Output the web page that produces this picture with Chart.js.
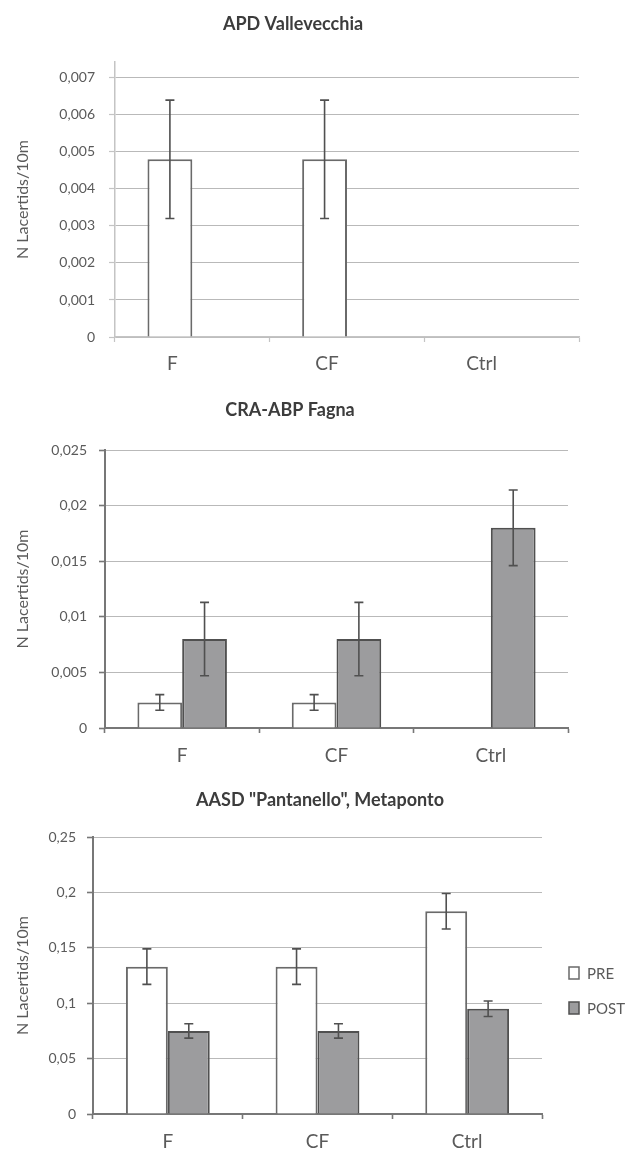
<!DOCTYPE html>
<html><head><meta charset="utf-8">
<script src="https://cdn.jsdelivr.net/npm/chart.js@4.4.1/dist/chart.umd.min.js"></script>
<style>
html,body{margin:0;padding:0;background:#fff;width:635px;height:1155px;overflow:hidden}
canvas{position:absolute;left:0}
</style></head><body>
<canvas id="c1" width="635" height="385" style="top:0"></canvas>
<canvas id="c2" width="635" height="390" style="top:385px"></canvas>
<canvas id="c3" width="635" height="380" style="top:775px"></canvas>
<script>
// ---- data ----
const categories = ['F', 'CF', 'Ctrl'];
const seriesNames = ['PRE', 'POST'];
const panelTitles = ['APD Vallevecchia', 'CRA-ABP Fagna', 'AASD "Pantanello", Metaponto'];
const yAxisTitle = 'N Lacertids/10m';

const vallePre = [0.0048, 0.0048, null];
const vallePreErr = [0.0016, 0.0016, null];
const vallePost = [null, null, null];
const vallePostErr = [null, null, null];

const fagnaPre = [0.0023, 0.0023, null];
const fagnaPreErr = [0.0007, 0.0007, null];
const fagnaPost = [0.008, 0.008, 0.018];
const fagnaPostErr = [0.0033, 0.0033, 0.0034];

const pantPre = [0.133, 0.133, 0.183];
const pantPreErr = [0.016, 0.016, 0.016];
const pantPost = [0.075, 0.075, 0.095];
const pantPostErr = [0.0065, 0.0065, 0.007];

const yAxisTop = [0.00743, 0.025, 0.25];
const yStep = [0.001, 0.005, 0.05];

// ---- styles ----
const FONT = 'Lato, "Open Sans", sans-serif';
const preFill = '#ffffff', preBorder = '#6a6a6a';
const postFill = '#9c9c9e', postBorder = '#505050';
const textGray = '#5a5a5a';

function fmt(v) {
  return String(Number(v.toFixed(4))).replace('.', ',');
}

const errorBarPlugin = {
  id: 'errorBars',
  afterDatasetsDraw(chart) {
    const ctx = chart.ctx;
    const ys = chart.scales.y;
    chart.data.datasets.forEach((ds, di) => {
      const meta = chart.getDatasetMeta(di);
      if (!ds.errors) return;
      meta.data.forEach((bar, i) => {
        const v = ds.data[i], e = ds.errors[i];
        if (v == null || e == null) return;
        const x = bar.x;
        const yt = ys.getPixelForValue(v + e);
        const yb = ys.getPixelForValue(v - e);
        ctx.save();
        ctx.strokeStyle = '#505050';
        ctx.lineWidth = 1.6;
        ctx.beginPath();
        ctx.moveTo(x, yt); ctx.lineTo(x, yb);
        ctx.moveTo(x - 4.5, yt); ctx.lineTo(x + 4.5, yt);
        ctx.moveTo(x - 4.5, yb); ctx.lineTo(x + 4.5, yb);
        ctx.stroke();
        ctx.restore();
      });
    });
  }
};

const panelTitlePlugin = {
  id: 'panelTitle',
  afterDraw(chart, args, opts) {
    if (!opts || !opts.text) return;
    const ctx = chart.ctx;
    ctx.save();
    ctx.font = 'bold 18px ' + FONT;
    ctx.fillStyle = '#3c3c3c';
    ctx.textAlign = 'center';
    ctx.textBaseline = 'middle';
    ctx.fillText(opts.text, opts.x, opts.y);
    ctx.restore();
  }
};

const sideLegendPlugin = {
  id: 'sideLegend',
  afterDraw(chart, args, opts) {
    if (!opts || !opts.show) return;
    const ctx = chart.ctx;
    ctx.save();
    ctx.font = '15px ' + FONT;
    ctx.textBaseline = 'middle';
    chart.data.datasets.forEach((ds, i) => {
      const y = opts.y[i];
      ctx.fillStyle = ds.backgroundColor;
      ctx.strokeStyle = ds.borderColor;
      ctx.lineWidth = 1.5;
      ctx.fillRect(opts.x, y - 6, 10, 12);
      ctx.strokeRect(opts.x, y - 6, 10, 12);
      ctx.fillStyle = textGray;
      ctx.fillText(ds.label, opts.x + 18, y + 1);
    });
    ctx.restore();
  }
};

function makeChart(id, idx, pre, preErr, post, postErr, geo) {
  const light = idx === 0;
  const axisColor = light ? '#c4c4c4' : '#777777';
  const step = yStep[idx];
  return new Chart(document.getElementById(id), {
    type: 'bar',
    data: {
      labels: categories,
      datasets: [
        { label: seriesNames[0], data: pre, errors: preErr, backgroundColor: preFill, borderColor: preBorder, borderWidth: 2, borderSkipped: 'bottom' },
        { label: seriesNames[1], data: post, errors: postErr, backgroundColor: postFill, borderColor: postBorder, borderWidth: 2, borderSkipped: 'bottom' }
      ]
    },
    options: {
      responsive: false,
      animation: false,
      events: [],
      layout: { padding: { left: 10, right: geo.padRight, top: geo.padTop, bottom: 0 } },
      datasets: { bar: { categoryPercentage: geo.catPct, barPercentage: 1 } },
      plugins: {
        legend: { display: false },
        tooltip: { enabled: false },
        title: { display: false },
        panelTitle: { text: panelTitles[idx], x: geo.titleX, y: geo.titleY },
        sideLegend: geo.legend || { show: false }
      },
      scales: {
        x: {
          afterFit(s) { s.height = geo.xHeight; },
          border: { color: axisColor, width: light ? 1.5 : 2 },
          grid: { display: true, drawOnChartArea: false, tickLength: 5, tickColor: axisColor, tickWidth: light ? 1.2 : 1.6, offset: true },
          ticks: { color: textGray, font: { family: FONT, size: 19 }, padding: geo.xPad, labelOffset: geo.labelOffset || 0 }
        },
        y: {
          min: 0, max: yAxisTop[idx],
          afterFit(s) { s.width = geo.yWidth; },
          afterBuildTicks(s) {
            s.ticks = s.ticks.filter(t => Math.abs(t.value / step - Math.round(t.value / step)) < 1e-6);
          },
          border: { color: axisColor, width: light ? 1.5 : 2 },
          grid: { color: '#b9b9b9', lineWidth: 1, borderDash: [2, 2], tickLength: 6, tickColor: axisColor, tickBorderDash: [], tickWidth: light ? 1.2 : 1.6 },
          ticks: { stepSize: step, color: textGray, font: { family: FONT, size: 14 }, padding: geo.yPad, callback: (v) => fmt(v) },
          title: { display: true, text: yAxisTitle, color: textGray, font: { family: FONT, size: 16 }, padding: { top: 3, bottom: 0 } }
        }
      }
    },
    plugins: [errorBarPlugin, panelTitlePlugin, sideLegendPlugin]
  });
}

makeChart('c1', 0, vallePre, vallePreErr, vallePost, vallePostErr,
  { padRight: 56, padTop: 62, xHeight: 48, yWidth: 105, catPct: 0.58, titleX: 293, titleY: 24, xPad: 10, yPad: 14, labelOffset: -20 });
makeChart('c2', 1, fagnaPre, fagnaPreErr, fagnaPost, fagnaPostErr,
  { padRight: 67, padTop: 65, xHeight: 47, yWidth: 95, catPct: 0.58, titleX: 290, titleY: 25, xPad: 11, yPad: 12 });
makeChart('c3', 2, pantPre, pantPreErr, pantPost, pantPostErr,
  { padRight: 93, padTop: 62, xHeight: 41, yWidth: 83, catPct: 0.56, titleX: 320, titleY: 25, xPad: 11, yPad: 11,
    legend: { show: true, x: 569, y: [198, 233] } });
</script>
</body></html>
